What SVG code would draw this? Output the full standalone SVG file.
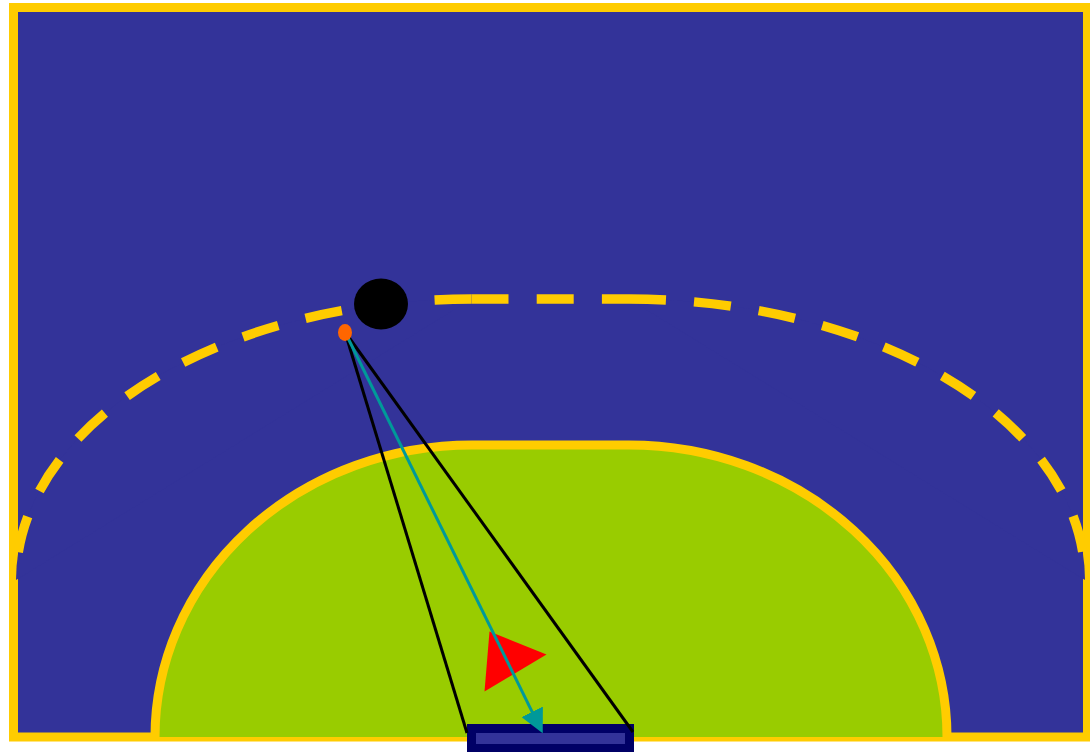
<svg xmlns="http://www.w3.org/2000/svg" width="1090" height="752" viewBox="0 0 1090 752">
  <defs>
    <style>
      .line9 { fill: none; stroke: #FFCC00; stroke-width: 9.5; stroke-dasharray: 37 28.2; }
      .line6 { fill: none; stroke: #FFCC00; stroke-width: 9; }
      .sight { fill: none; stroke: #000000; stroke-width: 3; }
    </style>
    <marker id="arrowhead" markerUnits="userSpaceOnUse" markerWidth="24" markerHeight="24" refX="2" refY="12" orient="auto">
      <path d="M0,0 L24,12 L0,24 Z" fill="#009999"/>
    </marker>
  </defs>
  <rect x="0" y="0" width="1090" height="752" fill="#FFFFFF"/>
  <g id="field">
    <rect x="13.5" y="7.5" width="1074" height="729.5" fill="#333399" stroke="#FFCC00" stroke-width="9"/>
  </g>
  <g id="free-throw-line">
    <path d="M471.5,299 A455.5,281 0 0 0 16,580" fill="#333399" stroke="none"/>
    <path d="M629,299 A456,281 0 0 1 1085,580" fill="#333399" stroke="none"/>
    <path class="line9" d="M471.5,299 A455.5,281 0 0 0 16,580"/>
    <path class="line9" d="M471.5,299 L629,299"/>
    <path class="line9" d="M629,299 A456,281 0 0 1 1085,580"/>
  </g>
  <g id="goal-area">
    <path d="M155,737 A317,292 0 0 1 472,445 L629,445 A318,292 0 0 1 947,737 Z" fill="#99CC00"/>
    <path class="line6" d="M155,737 A317,292 0 0 1 472,445"/>
    <path class="line6" d="M472,445 L629,445"/>
    <path class="line6" d="M629,445 A318,292 0 0 1 947,737"/>
  </g>
  <g id="goal">
    <rect x="467" y="724" width="167" height="30" fill="#000066"/>
    <rect x="476" y="733" width="149" height="11" fill="#333399"/>
  </g>
  <g id="defender">
    <ellipse cx="381" cy="304" rx="27" ry="25.5" fill="#000000"/>
  </g>
  <g id="goalkeeper">
    <polygon points="489.5,631.5 546.5,654.5 484.5,691.5" fill="#FF0000"/>
  </g>
  <g id="connectors">
    <line class="sight" x1="345" y1="332" x2="467" y2="733"/>
    <line class="sight" x1="345" y1="332" x2="633" y2="732"/>
    <line x1="345" y1="332" x2="533" y2="713.6" stroke="#009999" stroke-width="3" marker-end="url(#arrowhead)"/>
  </g>
  <g id="player">
    <ellipse cx="345" cy="332.5" rx="7" ry="8.5" fill="#FF6600"/>
  </g>
</svg>
